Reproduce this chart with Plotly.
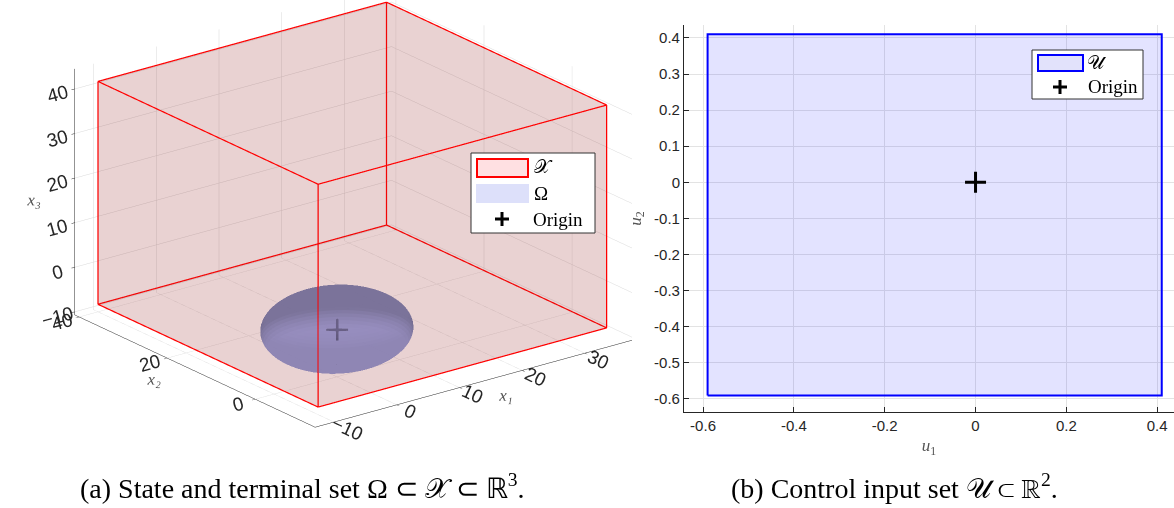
import numpy as np
import plotly.graph_objects as go

# ---------------- data ----------------
# State constraint set X : box bounds
x1_bounds = [-10, 36]
x2_bounds = [-10, 40]
x3_bounds = [-9, 41]
# Terminal set Omega : ellipsoid centred at the origin
omega_center = [0, 0, 0]
omega_radii = [10, 10, 8]
# Origin
origin = [0, 0, 0]
# Control input set U : box bounds
u1_bounds = [-0.59, 0.41]
u2_bounds = [-0.59, 0.41]

# axis ticks / ranges
x1_ticks = [-10, 0, 10, 20, 30]
x2_ticks = [0, 20, 40]
x3_ticks = [-10, 0, 10, 20, 30, 40]
x1_range = [-13, 37.5]
x2_range = [-13.6, 41]
x3_range = [-10.7, 44.5]
u1_ticks = [-0.6, -0.4, -0.2, 0, 0.2, 0.4]
u2_ticks = [-0.6, -0.5, -0.4, -0.3, -0.2, -0.1, 0, 0.1, 0.2, 0.3, 0.4]
u1_range = [-0.642, 0.437]
u2_range = [-0.636, 0.436]

# legend / caption texts
legend_a = ['𝒳', 'Ω', 'Origin']
legend_b = ['𝒰', 'Origin']
caption_a = '(a) State and terminal set Ω ⊂ 𝒳 ⊂ ℝ<sup>3</sup>.'
caption_b = '(b) Control input set 𝒰 ⊂ ℝ<sup>2</sup>.'

W, H = 1174, 508
AX = '#262626'
GRID = '#e3e3e3'
SERIF = 'Liberation Serif'
SANS = 'Liberation Sans'


def fmt(v):
    return '%g' % v


def px(x):
    return x / W


def py(y):
    return 1 - y / H


fig = go.Figure()

# ---------- left: 3D ----------
bx, by, bz = [], [], []
for i in range(8):
    bx.append(x1_bounds[i & 1])
    by.append(x2_bounds[(i >> 1) & 1])
    bz.append(x3_bounds[(i >> 2) & 1])

fig.add_trace(go.Mesh3d(x=bx, y=by, z=bz, alphahull=0, color='rgb(150,45,45)',
                        opacity=0.115, flatshading=True,
                        lighting=dict(ambient=1, diffuse=0, specular=0, fresnel=0),
                        hoverinfo='skip', showscale=False, scene='scene'))

ex, ey, ez = [], [], []
for i in range(8):
    for b in (1, 2, 4):
        j = i | b
        if j != i:
            ex += [bx[i], bx[j], None]
            ey += [by[i], by[j], None]
            ez += [bz[i], bz[j], None]
fig.add_trace(go.Scatter3d(x=ex, y=ey, z=ez, mode='lines',
                           line=dict(color='#ff0000', width=2.5),
                           hoverinfo='skip', showlegend=False, scene='scene'))

th = np.linspace(0, np.pi, 40)
ph = np.linspace(0, 2 * np.pi, 60)
TH, PH = np.meshgrid(th, ph)
sx = omega_center[0] + omega_radii[0] * np.sin(TH) * np.cos(PH)
sy = omega_center[1] + omega_radii[1] * np.sin(TH) * np.sin(PH)
sz = omega_center[2] + omega_radii[2] * np.cos(TH)
fig.add_trace(go.Surface(x=sx, y=sy, z=sz,
                         colorscale=[[0, '#8f87bd'], [1, '#8f87bd']],
                         showscale=False, opacity=0.7,
                         lighting=dict(ambient=0.72, diffuse=0.45, specular=0.35, roughness=0.5, fresnel=0.2),
                         hoverinfo='skip', showlegend=False, scene='scene'))

fig.add_trace(go.Scatter3d(x=[origin[0]], y=[origin[1]], z=[origin[2]], mode='markers',
                           marker=dict(symbol='cross', size=12, color='#000000'),
                           showlegend=False, hoverinfo='skip', scene='scene'))

# ---------- right: 2D ----------
rx = [u1_bounds[0], u1_bounds[1], u1_bounds[1], u1_bounds[0], u1_bounds[0]]
ry = [u2_bounds[0], u2_bounds[0], u2_bounds[1], u2_bounds[1], u2_bounds[0]]
fig.add_trace(go.Scatter(x=rx, y=ry, mode='lines', fill='toself', name=legend_b[0],
                         line=dict(color='#0000ff', width=2),
                         fillcolor='rgba(0,0,255,0.11)', hoverinfo='skip',
                         showlegend=False))
fig.add_trace(go.Scatter(x=[origin[0]], y=[origin[1]], mode='markers', name=legend_b[1],
                         marker=dict(symbol='cross-thin', size=15, color='black',
                                     line=dict(color='black', width=3)),
                         hoverinfo='skip', showlegend=False))

# ---------- hand-made legends (MATLAB style) ----------
shapes = []
annotations = []


def rect(x0, y0, x1, y1, line=None, fill=None, lw=1):
    shapes.append(dict(type='rect', xref='paper', yref='paper',
                       x0=px(x0), x1=px(x1), y0=py(y1), y1=py(y0),
                       line=dict(color=line or 'rgba(0,0,0,0)', width=lw if line else 0),
                       fillcolor=fill or 'rgba(0,0,0,0)', layer='above'))


def cross(cx, cy, s=7, lw=3):
    shapes.append(dict(type='line', xref='paper', yref='paper', x0=px(cx - s), x1=px(cx + s),
                       y0=py(cy), y1=py(cy), line=dict(color='black', width=lw), layer='above'))
    shapes.append(dict(type='line', xref='paper', yref='paper', x0=px(cx), x1=px(cx),
                       y0=py(cy - s), y1=py(cy + s), line=dict(color='black', width=lw), layer='above'))


def label(x, y, t, size=19):
    annotations.append(dict(text=t, x=px(x), y=py(y), xref='paper', yref='paper',
                            showarrow=False, xanchor='left', yanchor='middle',
                            font=dict(family=SERIF, size=size, color='black')))


# left legend
rect(471, 153, 595, 233, line='#333333', fill='white', lw=1)
rect(477, 159, 528, 177, line='#ff0000', fill='#ffe0e2', lw=2)
label(532, 166, legend_a[0])
rect(476, 184, 529, 203, fill='#dde0fa')
label(532, 193, legend_a[1])
cross(502, 219)
label(531, 219, legend_a[2])

# right legend
rect(1032, 50, 1143, 99, line='#333333', fill='white', lw=1)
rect(1038, 55, 1083, 71, line='#0000ff', fill='#e2e2fb', lw=2)
label(1085, 62, legend_b[0])
cross(1060, 87)
label(1086, 86, legend_b[1])

# captions
annotations.append(dict(text=caption_a, x=px(302), y=py(486), xref='paper', yref='paper',
                        showarrow=False, xanchor='center', yanchor='middle',
                        font=dict(family=SERIF, size=28, color='black')))
annotations.append(dict(text=caption_b, x=px(894), y=py(486), xref='paper', yref='paper',
                        showarrow=False, xanchor='center', yanchor='middle',
                        font=dict(family=SERIF, size=28, color='black')))

ax3 = dict(showbackground=False, gridcolor='#d9d9d9', gridwidth=1,
           showline=True, linecolor=AX, linewidth=1, zeroline=False,
           ticks='outside', tickcolor=AX, ticklen=4,
           tickfont=dict(family=SANS, size=15, color=AX), showspikes=False)

eye_dir = np.array([-0.568, -0.741, 0.358])
eye_d = 2.0
zoom = 1.786
cam_center = np.array([-0.064, 0.011, -0.079])
cam_eye = cam_center + eye_dir * eye_d

fig.update_layout(
    width=W, height=H,
    margin=dict(l=0, r=0, t=0, b=0),
    paper_bgcolor='white', plot_bgcolor='white',
    showlegend=False,
    scene=dict(
        domain=dict(x=[0.0, 0.58], y=[0.12, 1.0]),
        xaxis=dict(ax3, range=x1_range, tickvals=x1_ticks,
                   title=dict(text='x₁', font=dict(family=SERIF, size=17, color='#555555', style='italic'))),
        yaxis=dict(ax3, range=x2_range, tickvals=x2_ticks,
                   title=dict(text='x₂', font=dict(family=SERIF, size=17, color='#555555', style='italic'))),
        zaxis=dict(ax3, range=x3_range, tickvals=x3_ticks,
                   title=dict(text='x₃', font=dict(family=SERIF, size=17, color='#555555', style='italic'))),
        aspectmode='manual', aspectratio=dict(x=1 * zoom, y=0.99 * zoom, z=0.66 * zoom),
        camera=dict(eye=dict(x=cam_eye[0], y=cam_eye[1], z=cam_eye[2]),
                    up=dict(x=0, y=0, z=1),
                    center=dict(x=cam_center[0], y=cam_center[1], z=cam_center[2]),
                    projection=dict(type='orthographic')),
    ),
    xaxis=dict(domain=[0.5826, 1.0], range=u1_range, tickvals=u1_ticks,
               ticktext=[fmt(v) for v in u1_ticks],
               showline=True, linecolor=AX, linewidth=1, mirror=False,
               ticks='inside', ticklen=5, tickcolor=AX, zeroline=False,
               showgrid=True, gridcolor=GRID, gridwidth=1,
               tickfont=dict(family=SANS, size=15, color=AX),
               title=dict(text='<i>u</i><sub>1</sub>', standoff=6,
                          font=dict(family=SERIF, size=17, color='#555555'))),
    yaxis=dict(domain=[0.189, 0.951], range=u2_range, tickvals=u2_ticks,
               ticktext=[fmt(v) for v in u2_ticks],
               showline=True, linecolor=AX, linewidth=1, mirror=False,
               ticks='inside', ticklen=5, tickcolor=AX, zeroline=False,
               showgrid=True, gridcolor=GRID, gridwidth=1,
               tickfont=dict(family=SANS, size=15, color=AX),
               title=dict(text='<i>u</i><sub>2</sub>', standoff=8,
                          font=dict(family=SERIF, size=17, color='#555555'))),
    shapes=shapes,
    annotations=annotations,
)

fig.write_html('out.html')
